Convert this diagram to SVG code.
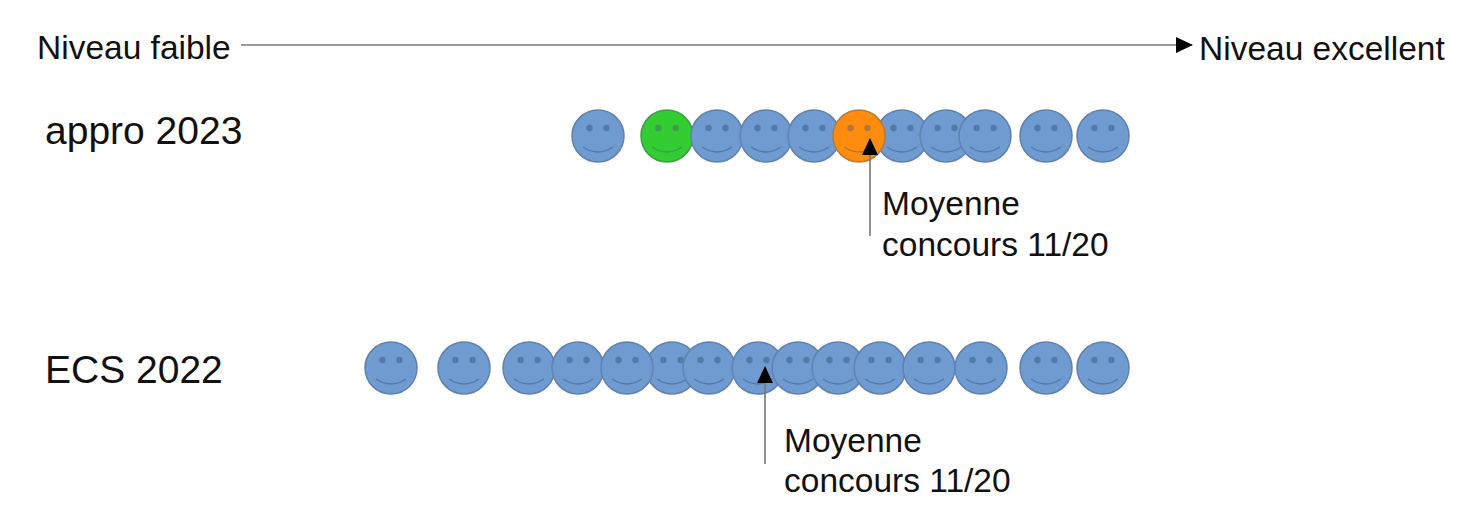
<svg xmlns="http://www.w3.org/2000/svg" width="1468" height="512" viewBox="0 0 1468 512">
<style>
.t{font-family:"Liberation Sans",Arial,sans-serif;fill:#111}
.s{font-size:33.5px}.l{font-size:39px}
use{--f:#6f9bd1;--k:#5f82ae;--d:#5379a8}
use.green{--f:#33cc33;--k:#3f9c48;--d:#3a9f4a}
use.orange{--f:#ff8c0f;--k:#b87a35;--d:#b07a35}
.face{stroke:var(--k);stroke-width:1.5;fill:var(--f)}
.eye{fill:var(--d);stroke:none}
.smile{fill:none;stroke:var(--d);stroke-width:1.5}
.line{stroke:#777;stroke-width:1.6;fill:none}
</style>
<defs>
<g id="smiley">
<circle class="face" r="26"/>
<circle class="eye" cx="-8.5" cy="-8" r="3.2"/>
<circle class="eye" cx="8.5" cy="-8" r="3.2"/>
<path class="smile" d="M-15 11Q0 21 15 11"/>
</g>
<marker id="arrow" markerUnits="userSpaceOnUse" markerWidth="18" markerHeight="18" refX="16" refY="9" orient="auto"><path d="M0 1L17 9L0 17Z" fill="#000"/></marker>
</defs>
<g id="label-faible"><text class="t s" x="37" y="59">Niveau faible</text></g>
<g id="label-excellent"><text class="t s" x="1199" y="60">Niveau excellent</text></g>
<g id="label-appro"><text class="t l" x="45" y="144">appro 2023</text></g>
<g id="label-ecs"><text class="t l" x="45" y="383">ECS 2022</text></g>
<g id="row-appro">
<use id="a1" href="#smiley" x="598" y="136"/>
<use id="a2" class="green" href="#smiley" x="667" y="136"/>
<use id="a3" href="#smiley" x="717" y="136"/>
<use id="a4" href="#smiley" x="766" y="136"/>
<use id="a5" href="#smiley" x="814" y="136"/>
<use id="a7" href="#smiley" x="902" y="136"/>
<use id="a8" href="#smiley" x="946" y="136"/>
<use id="a9" href="#smiley" x="985" y="136"/>
<use id="a10" href="#smiley" x="1046" y="136"/>
<use id="a11" href="#smiley" x="1103" y="136"/>
<use id="a6" class="orange" href="#smiley" x="859" y="136"/>
</g>
<g id="row-ecs">
<use id="e1" href="#smiley" x="391" y="368"/>
<use id="e2" href="#smiley" x="464" y="368"/>
<use id="e3" href="#smiley" x="529" y="368"/>
<use id="e4" href="#smiley" x="578" y="368"/>
<use id="e6" href="#smiley" x="672" y="368"/>
<use id="e5" href="#smiley" x="627" y="368"/>
<use id="e7" href="#smiley" x="709" y="368"/>
<use id="e8" href="#smiley" x="758" y="368"/>
<use id="e9" href="#smiley" x="798" y="368"/>
<use id="e10" href="#smiley" x="838" y="368"/>
<use id="e11" href="#smiley" x="880" y="368"/>
<use id="e12" href="#smiley" x="929" y="368"/>
<use id="e13" href="#smiley" x="981" y="368"/>
<use id="e14" href="#smiley" x="1046" y="368"/>
<use id="e15" href="#smiley" x="1103" y="368"/>
</g>
<g id="connectors">
<path class="line" d="M241 45H1192" marker-end="url(#arrow)"/>
<path class="line" d="M870 236V139" marker-end="url(#arrow)"/>
<path class="line" d="M765 464V367" marker-end="url(#arrow)"/>
</g>
<g id="note-appro"><text class="t s" x="882" y="215">Moyenne</text><text class="t s" x="882" y="256">concours 11/20</text></g>
<g id="note-ecs"><text class="t s" x="784" y="452">Moyenne</text><text class="t s" x="784" y="492">concours 11/20</text></g>
</svg>
